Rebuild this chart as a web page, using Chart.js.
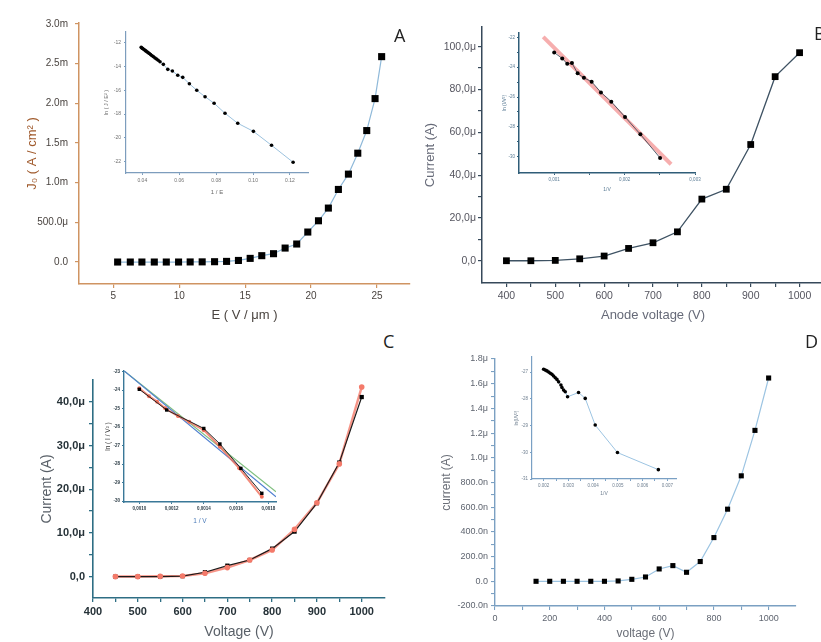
<!DOCTYPE html>
<html>
<head>
<meta charset="UTF-8">
<title>Field emission I-V curves</title>
<script src="https://cdn.jsdelivr.net/npm/chart.js"></script>
<style>
  body { margin: 0; background: #fff; width: 821px; height: 642px; overflow: hidden; position: relative; }
  canvas { position: absolute; }
  .lbl { position: absolute; font-family: "Open Sans", sans-serif; font-size: 18px; line-height: 18px; color: #222; }
</style>
</head>
<body>
<canvas id="aMain"></canvas>
<canvas id="bMain"></canvas>
<canvas id="cMain"></canvas>
<canvas id="dMain"></canvas>
<canvas id="aInset"></canvas>
<canvas id="bInset"></canvas>
<canvas id="cInset"></canvas>
<canvas id="dInset"></canvas>
<div class="lbl" style="left:394px;top:26px">A</div>
<div class="lbl" style="left:814px;top:24px">B</div>
<div class="lbl" style="left:383px;top:332px">C</div>
<div class="lbl" style="left:805px;top:332px">D</div>
<script>
// ---- panel A : J (mA/cm2) vs E ----
var aE = [5.33, 6.29, 7.17, 8.11, 9.02, 9.95, 10.83, 11.74, 12.68, 13.59, 14.49, 15.38, 16.26, 17.15, 18.03, 18.91, 19.75, 20.56, 21.31, 22.07, 22.83, 23.54, 24.22, 24.85, 25.35];
var aJ = [0, 0, 0, 0, 0, 0, 0.001, 0.002, 0.004, 0.008, 0.02, 0.046, 0.08, 0.105, 0.176, 0.227, 0.378, 0.52, 0.68, 0.915, 1.108, 1.372, 1.657, 2.06, 2.589];
var aXTicks = [5, 10, 15, 20, 25];
var aXLabels = ['5', '10', '15', '20', '25'];
var aYTicks = [0, 0.5, 1, 1.5, 2, 2.5, 3];
var aYLabels = ['0.0', '500.0μ', '1.0m', '1.5m', '2.0m', '2.5m', '3.0m'];
// inset A : ln(J/E^2) vs 1/E
var aInvE = [0.0394, 0.0398, 0.0402, 0.0407, 0.0413, 0.0419, 0.0425, 0.0431, 0.0438, 0.0445, 0.0453, 0.0461, 0.0469, 0.0477, 0.0486, 0.0496, 0.0514, 0.0538, 0.0563, 0.0592, 0.0619, 0.0655, 0.0695, 0.0740, 0.0789, 0.0848, 0.0917, 0.1002, 0.1100, 0.1217];
var aLnJ = [-12.39, -12.44, -12.49, -12.55, -12.62, -12.69, -12.76, -12.83, -12.91, -13.0, -13.09, -13.18, -13.28, -13.37, -13.48, -13.60, -13.82, -14.24, -14.38, -14.74, -14.91, -15.45, -16.0, -16.54, -17.09, -17.93, -18.77, -19.45, -20.62, -22.05];
var aiXTicks = [0.04, 0.06, 0.08, 0.10, 0.12];
var aiXLabels = ['0.04', '0.06', '0.08', '0.10', '0.12'];
var aiYTicks = [-22, -20, -18, -16, -14, -12];
var aiYLabels = ['-22', '-20', '-18', '-16', '-14', '-12'];

// ---- panel B : current (uA) vs anode voltage ----
var bV = [400, 450, 500, 550, 600, 650, 700, 750, 800, 850, 900, 950, 1000];
var bI = [0, 0, 0.16, 0.9, 2.2, 5.75, 8.4, 13.5, 28.8, 33.4, 54.3, 86.0, 97.2];
var bXTicks = [400, 500, 600, 700, 800, 900, 1000];
var bXLabels = ['400', '500', '600', '700', '800', '900', '1000'];
var bXMinor = [450, 550, 650, 750, 850, 950];
var bYTicks = [0, 20, 40, 60, 80, 100];
var bYLabels = ['0,0', '20,0μ', '40,0μ', '60,0μ', '80,0μ', '100,0μ'];
var bYMinor = [10, 30, 50, 70, 90];
// inset B
var bInvV = [0.001, 0.001114, 0.001185, 0.001252, 0.001333, 0.001422, 0.001532, 0.001664, 0.001811, 0.002006, 0.002224, 0.002504];
var bLn = [-23.01, -23.41, -23.77, -23.72, -24.41, -24.71, -24.97, -25.69, -26.31, -27.34, -28.5, -30.09];
var bFitX = [0.000844, 0.00266];
var bFitY = [-21.96, -30.51];
var biXTicks = [0.001, 0.002, 0.003];
var biXLabels = ['0,001', '0,002', '0,003'];
var biXMinor = [0.0015, 0.0025];
var biYTicks = [-30, -28, -26, -24, -22];
var biYLabels = ['-30', '-28', '-26', '-24', '-22'];
var biYMinor = [-29, -27, -25, -23];

// ---- panel C : current (uA) vs voltage, two samples ----
var cV = [450, 500, 550, 600, 650, 700, 750, 800, 850, 900, 950, 1000];
var cBlack = [0, 0, 0, 0.1, 1.0, 2.5, 3.8, 6.4, 10.3, 16.8, 26.1, 41.1];
var cRed = [0, 0, 0.05, 0.15, 0.76, 2.06, 3.8, 6.1, 10.8, 16.9, 25.8, 43.4];
var cXTicks = [400, 500, 600, 700, 800, 900, 1000];
var cXLabels = ['400', '500', '600', '700', '800', '900', '1000'];
var cXMinor = [450, 550, 650, 750, 850, 950];
var cYTicks = [0, 10, 20, 30, 40];
var cYLabels = ['0,0', '10,0μ', '20,0μ', '30,0μ', '40,0μ'];
var cYMinor = [5, 15, 25, 35];
// inset C
var ciBlackX = [0.001, 0.00117, 0.0014, 0.0015, 0.00163, 0.00176];
var ciBlackY = [-23.95, -25.07, -26.07, -26.91, -28.23, -29.58];
var ciRedX = [0.001, 0.00106, 0.00111, 0.00116, 0.00124, 0.00131, 0.0014, 0.0015, 0.00162, 0.00176];
var ciRedY = [-23.9, -24.32, -24.62, -24.98, -25.4, -25.71, -26.16, -27.06, -28.23, -29.77];
var ciFitX = [0.000905, 0.001848];
var ciGreenY = [-22.95, -29.5];
var ciBlueY = [-22.95, -29.77];
var ciXTicks = [0.001, 0.0012, 0.0014, 0.0016, 0.0018];
var ciXLabels = ['0,0010', '0,0012', '0,0014', '0,0016', '0,0018'];
var ciYTicks = [-30, -29, -28, -27, -26, -25, -24, -23];
var ciYLabels = ['-30', '-29', '-28', '-27', '-26', '-25', '-24', '-23'];

// ---- panel D : current (nA) vs voltage ----
var dV = [150, 200, 250, 300, 350, 400, 450, 500, 550, 600, 650, 700, 750, 800, 850, 900, 950, 1000];
var dI = [0, 0, 0, 0, 0, 0, 2.7, 16, 35, 100, 127, 73, 160, 354, 584, 854, 1222, 1646];
var dXTicks = [0, 200, 400, 600, 800, 1000];
var dXLabels = ['0', '200', '400', '600', '800', '1000'];
var dXMinor = [100, 300, 500, 700, 900];
var dYTicks = [-200, 0, 200, 400, 600, 800, 1000, 1200, 1400, 1600, 1800];
var dYLabels = ['-200.0n', '0.0', '200.0n', '400.0n', '600.0n', '800.0n', '1.0μ', '1.2μ', '1.4μ', '1.6μ', '1.8μ'];
var dYMinor = [-100, 100, 300, 500, 700, 900, 1100, 1300, 1500, 1700];
// inset D
var diX = [0.002, 0.002067, 0.002134, 0.002202, 0.002269, 0.002336, 0.002403, 0.00247, 0.002538, 0.002605, 0.002699, 0.00274, 0.002807, 0.002874, 0.002968, 0.003411, 0.003681, 0.004085, 0.004984, 0.006637];
var diY = [-26.89, -26.92, -26.95, -26.99, -27.04, -27.08, -27.14, -27.21, -27.27, -27.36, -27.48, -27.57, -27.67, -27.73, -27.92, -27.76, -27.98, -28.98, -30.01, -30.65];
var diXTicks = [0.002, 0.003, 0.004, 0.005, 0.006, 0.007];
var diXLabels = ['0.002', '0.003', '0.004', '0.005', '0.006', '0.007'];
var diXMinor = [0.0025, 0.0035, 0.0045, 0.0055, 0.0065];
var diYTicks = [-31, -30, -29, -28, -27];
var diYLabels = ['-31', '-30', '-29', '-28', '-27'];

var F = '"Liberation Sans", Arial, sans-serif';

function pts(xs, ys) {
  return xs.map(function (x, i) { return { x: x, y: ys[i] }; });
}

function axis(a, o, dir, size, titlePad) {
  var all = a.ticks.concat(a.minor || []).sort(function (u, v) { return u - v; });
  return {
    type: 'linear',
    min: a.min,
    max: a.max,
    afterBuildTicks: function (s) { s.ticks = all.map(function (v) { return { value: v }; }); },
    afterFit: function (s) {
      if (dir === 'x') s.height = size; else s.width = size;
      s.paddingLeft = s.paddingRight = s.paddingTop = s.paddingBottom = 0;
    },
    border: { display: true, color: o.axisColor, width: o.axisWidth },
    grid: { drawOnChartArea: false, drawTicks: true, tickLength: o.tickLen, color: o.axisColor, lineWidth: o.tickWidth },
    ticks: {
      autoSkip: false, maxRotation: 0, minRotation: 0,
      padding: a.pad, color: o.tickColor,
      font: { size: o.tickSize, family: F, weight: o.tickWeight || 'normal' },
      callback: function (v) { var i = a.ticks.indexOf(v); return i < 0 ? '' : a.labels[i]; }
    },
    title: {
      display: true, text: a.title, color: a.titleColor || o.titleColor,
      font: { size: a.titleSize, family: F },
      padding: dir === 'x' ? { top: 0, bottom: titlePad } : { top: titlePad, bottom: 0 }
    }
  };
}

// c = canvas box, p = plot box, both [left, top, right, bottom] on the page
function makeChart(id, c, p, o, datasets) {
  var cv = document.getElementById(id);
  cv.width = c[2] - c[0];
  cv.height = c[3] - c[1];
  cv.style.left = c[0] + 'px';
  cv.style.top = c[1] + 'px';
  var xPad = c[3] - o.x.titleAt - o.x.titleSize * 0.6;
  var yPad = o.y.titleAt - c[0] - o.y.titleSize * 0.6;
  new Chart(cv, {
    type: 'scatter',
    data: { datasets: datasets },
    options: {
      responsive: false,
      animation: false,
      layout: { autoPadding: false, padding: { left: 0, top: p[1] - c[1], right: c[2] - p[2], bottom: 0 } },
      plugins: { legend: { display: false }, tooltip: { enabled: false } },
      scales: {
        x: axis(o.x, o, 'x', c[3] - p[3], xPad),
        y: axis(o.y, o, 'y', p[0] - c[0], yPad)
      }
    }
  });
}

function series(xs, ys, line, lw, style, r, fill) {
  return {
    data: pts(xs, ys), showLine: lw > 0, borderColor: line, borderWidth: lw, tension: 0,
    pointStyle: style, pointRadius: r, pointBackgroundColor: fill, pointBorderColor: fill, pointBorderWidth: 0
  };
}

// Panel A
makeChart('aMain', [0, 13, 420, 325], [79, 23, 410, 284], {
  axisColor: '#cf9462', axisWidth: 1.5, tickWidth: 1.2, tickLen: 4, tickColor: '#4a4440', tickSize: 10, titleColor: '#4a4440',
  x: { min: 2.4, max: 27.5, ticks: aXTicks, labels: aXLabels, pad: 2, title: 'E ( V / μm )', titleSize: 13, titleAt: 315 },
  y: { min: -0.277, max: 3.013, ticks: aYTicks, labels: aYLabels, pad: 7, title: 'J₀ ( A / cm² )', titleSize: 13, titleAt: 32, titleColor: '#a05a2c' }
}, [series(aE, aJ, '#8fb9d9', 1.2, 'rect', 5, '#000')]);

makeChart('aInset', [96, 24, 318, 200], [126, 32, 308, 173], {
  axisColor: '#7d9dbd', axisWidth: 1.2, tickWidth: 1, tickLen: 2, tickColor: '#707070', tickSize: 5, titleColor: '#6a6a6a',
  x: { min: 0.03117, max: 0.12976, ticks: aiXTicks, labels: aiXLabels, pad: 3, title: '1 / E', titleSize: 6, titleAt: 192 },
  y: { min: -22.95, max: -11.1, ticks: aiYTicks, labels: aiYLabels, pad: 3, title: 'ln ( J / E² )', titleSize: 5.5, titleAt: 106 }
}, [series(aInvE, aLnJ, '#9cc2de', 1, 'circle', 1.8, '#000')]);

// Panel B
makeChart('bMain', [412, 17, 834, 325], [482, 27, 824, 283], {
  axisColor: '#36495a', axisWidth: 1.5, tickWidth: 1.2, tickLen: 4, tickColor: '#55555f', tickSize: 10.5, titleColor: '#666a78',
  x: { min: 350, max: 1050, ticks: bXTicks, labels: bXLabels, minor: bXMinor, pad: 3, title: 'Anode voltage (V)', titleSize: 13, titleAt: 315 },
  y: { min: -10.4, max: 109.2, ticks: bYTicks, labels: bYLabels, minor: bYMinor, pad: 2, title: 'Current (A)', titleSize: 13, titleAt: 430 }
}, [series(bV, bI, '#3e5263', 1.3, 'rect', 4.8, '#000')]);

makeChart('bInset', [490, 25, 706, 200], [519, 33, 695, 173], {
  axisColor: '#2f5d78', axisWidth: 1.5, tickWidth: 1, tickLen: 2, tickColor: '#5b7c95', tickSize: 4.5, titleColor: '#5b7c95',
  x: { min: 0.0005, max: 0.003, ticks: biXTicks, labels: biXLabels, minor: biXMinor, pad: 2, title: '1/V', titleSize: 5, titleAt: 189.3 },
  y: { min: -31.1, max: -21.7, ticks: biYTicks, labels: biYLabels, minor: biYMinor, pad: 2, title: 'ln (I/V²)', titleSize: 5, titleAt: 505 }
}, [
  series(bInvV, bLn, '#2b3d4c', 0.8, 'circle', 2, '#000'),
  series(bFitX, bFitY, 'rgba(240,120,120,0.6)', 4, 'circle', 0, '#f08080')
]);

// Panel C
makeChart('cMain', [0, 370, 420, 642], [93, 380, 385, 598], {
  axisColor: '#2e6e84', axisWidth: 1.6, tickWidth: 1.3, tickLen: 4, tickColor: '#263238', tickSize: 11, tickWeight: 'bold', titleColor: '#596068',
  x: { min: 400, max: 1052, ticks: cXTicks, labels: cXLabels, minor: cXMinor, pad: 3, title: 'Voltage (V)', titleSize: 14, titleAt: 631.7 },
  y: { min: -4.9, max: 45, ticks: cYTicks, labels: cYLabels, minor: cYMinor, pad: 4, title: 'Current (A)', titleSize: 14, titleAt: 46.7 }
}, [
  series(cV, cRed, '#f47a6a', 0, 'circle', 2.8, '#f47a6a'),
  series(cV, cBlack, '#1a1a1a', 1.2, 'rect', 3, '#000'),
  series(cV, cRed, 'rgba(244,122,106,0.8)', 2.5, 'circle', 0, '#f47a6a')
]);

makeChart('cInset', [90, 362, 286, 530], [124, 371, 276, 502], {
  axisColor: '#3a7898', axisWidth: 1.4, tickWidth: 1, tickLen: 2, tickColor: '#2a3a44', tickSize: 4.5, tickWeight: 'bold', titleColor: '#333',
  x: { min: 0.000905, max: 0.001848, ticks: ciXTicks, labels: ciXLabels, pad: 2, title: '1 / V', titleSize: 6.5, titleAt: 521.7, titleColor: '#4a7ab8' },
  y: { min: -30.05, max: -22.96, ticks: ciYTicks, labels: ciYLabels, pad: 2, title: 'ln ( I / V² )', titleSize: 6.5, titleAt: 108.3 }
}, [
  series(ciBlackX, ciBlackY, '#222', 1, 'rect', 2.4, '#000'),
  series(ciRedX, ciRedY, 'rgba(240,110,90,0.8)', 2, 'circle', 2, '#f06e5a'),
  series(ciFitX, ciBlueY, '#4f7fd0', 1.2, 'circle', 0, '#4f7fd0'),
  series(ciFitX, ciGreenY, '#80c080', 1.2, 'circle', 0, '#80c080')
]);

// Panel D
makeChart('dMain', [420, 348, 821, 642], [495, 359, 796, 606], {
  axisColor: '#7ba0c2', axisWidth: 1.4, tickWidth: 1.1, tickLen: 4, tickColor: '#5f6570', tickSize: 9, titleColor: '#6b6f78',
  x: { min: 0, max: 1100, ticks: dXTicks, labels: dXLabels, minor: dXMinor, pad: 3, title: 'voltage (V)', titleSize: 12, titleAt: 634 },
  y: { min: -200, max: 1800, ticks: dYTicks, labels: dYLabels, minor: dYMinor, pad: 3, title: 'current (A)', titleSize: 12, titleAt: 446.7 }
}, [series(dV, dI, '#9cc4e2', 1.2, 'rect', 3.6, '#000')]);

makeChart('dInset', [505, 349, 686, 505], [532, 357, 676, 479], {
  axisColor: '#7aa0c4', axisWidth: 1.2, tickWidth: 1, tickLen: 2, tickColor: '#6f7f90', tickSize: 4.5, titleColor: '#6f7f90',
  x: { min: 0.00153, max: 0.00735, ticks: diXTicks, labels: diXLabels, minor: diXMinor, pad: 2, title: '1/V', titleSize: 5, titleAt: 493.3 },
  y: { min: -31, max: -26.43, ticks: diYTicks, labels: diYLabels, pad: 2, title: 'ln(I/V²)', titleSize: 5, titleAt: 516.7 }
}, [series(diX, diY, '#9cc4e2', 1, 'circle', 1.8, '#000')]);
</script>
</body>
</html>
